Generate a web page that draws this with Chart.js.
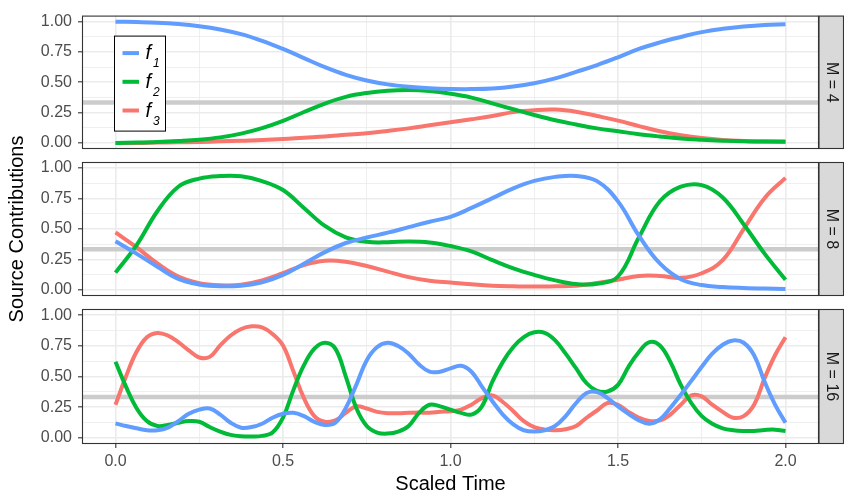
<!DOCTYPE html>
<html>
<head>
<meta charset="utf-8">
<script src="https://cdn.jsdelivr.net/npm/chart.js@4.4.0/dist/chart.umd.min.js"></script>
<style>
  html, body { margin: 0; padding: 0; background: #ffffff; }
  #wrap { position: relative; width: 844px; height: 495px; overflow: hidden; }
  #wrap canvas { position: absolute; left: 0; top: 0; }
</style>
</head>
<body>
<div id="wrap">
  <canvas id="panelM4" width="844" height="495"></canvas>
  <canvas id="panelM8" width="844" height="495"></canvas>
  <canvas id="panelM16" width="844" height="495"></canvas>
</div>
<script>
// series / facets
const seriesNames = ['f_1', 'f_2', 'f_3'];
const seriesColors = ['#619CFF', '#00BA38', '#F8766D'];
const panelLabels = ['M = 4', 'M = 8', 'M = 16'];
const refLevel = 1 / 3;

// ticks
const xTicks = [0, 0.25, 0.5, 0.75, 1, 1.25, 1.5, 1.75, 2];
const yTicks = [0, 0.125, 0.25, 0.375, 0.5, 0.625, 0.75, 0.875, 1];

// time grids
const timeCoarse = [0, 0.0625, 0.125, 0.1875, 0.25, 0.3125, 0.375, 0.4375, 0.5, 0.5625, 0.625, 0.6875,
  0.75, 0.8125, 0.875, 0.9375, 1, 1.0625, 1.125, 1.1875, 1.25, 1.3125, 1.375, 1.4375, 1.5, 1.5625,
  1.625, 1.6875, 1.75, 1.8125, 1.875, 1.9375, 2];
const timeFine = [0, 0.03125, 0.0625, 0.09375, 0.125, 0.15625, 0.1875, 0.21875, 0.25, 0.28125, 0.3125,
  0.34375, 0.375, 0.40625, 0.4375, 0.46875, 0.5, 0.53125, 0.5625, 0.59375, 0.625, 0.65625, 0.6875,
  0.71875, 0.75, 0.78125, 0.8125, 0.84375, 0.875, 0.90625, 0.9375, 0.96875, 1, 1.03125, 1.0625,
  1.09375, 1.125, 1.15625, 1.1875, 1.21875, 1.25, 1.28125, 1.3125, 1.34375, 1.375, 1.40625, 1.4375,
  1.46875, 1.5, 1.53125, 1.5625, 1.59375, 1.625, 1.65625, 1.6875, 1.71875, 1.75, 1.78125, 1.8125,
  1.84375, 1.875, 1.90625, 1.9375, 1.96875, 2];

// M = 4
const m4f1 = [1.0, 0.997, 0.992, 0.981, 0.963, 0.936, 0.897, 0.842, 0.775, 0.70, 0.625, 0.562, 0.515, 0.483, 0.463, 0.451, 0.445,
  0.444, 0.449, 0.465, 0.492, 0.532, 0.586, 0.642, 0.706, 0.775, 0.829, 0.874, 0.914, 0.941, 0.96, 0.973, 0.979];
const m4f2 = [0, 0.003, 0.008, 0.016, 0.027, 0.046, 0.077, 0.122, 0.182, 0.255, 0.325, 0.38, 0.412, 0.43, 0.436, 0.428, 0.406,
  0.374, 0.326, 0.278, 0.23, 0.187, 0.152, 0.12, 0.096, 0.072, 0.053, 0.037, 0.027, 0.019, 0.013, 0.011, 0.011];
const m4f3 = [0, 0, 0.003, 0.005, 0.008, 0.013, 0.019, 0.024, 0.032, 0.043, 0.053, 0.067, 0.08, 0.099, 0.12, 0.145, 0.17,
  0.195, 0.222, 0.254, 0.27, 0.275, 0.257, 0.222, 0.184, 0.139, 0.096, 0.064, 0.04, 0.024, 0.016, 0.011, 0.008];

// M = 8
const m8f1 = [0.40, 0.298, 0.19, 0.09, 0.045, 0.03, 0.035, 0.062, 0.123, 0.215, 0.31, 0.385, 0.43, 0.47, 0.515, 0.56, 0.60,
  0.673, 0.753, 0.834, 0.895, 0.928, 0.936, 0.893, 0.727, 0.445, 0.217, 0.088, 0.04, 0.024, 0.016, 0.011, 0.008];
const m8f2 = [0.142, 0.365, 0.646, 0.847, 0.914, 0.935, 0.933, 0.893, 0.82, 0.673, 0.525, 0.432, 0.395, 0.391, 0.398, 0.39, 0.36,
  0.316, 0.244, 0.177, 0.123, 0.078, 0.048, 0.051, 0.11, 0.432, 0.727, 0.847, 0.86, 0.759, 0.539, 0.298, 0.083];
const m8f3 = [0.472, 0.351, 0.217, 0.11, 0.056, 0.038, 0.043, 0.078, 0.137, 0.204, 0.239, 0.231, 0.196, 0.15, 0.105, 0.075, 0.06,
  0.046, 0.035, 0.03, 0.027, 0.03, 0.035, 0.056, 0.083, 0.115, 0.115, 0.099, 0.137, 0.244, 0.499, 0.753, 0.92];

// M = 16
const m16f1 = [0.118, 0.097, 0.078, 0.062, 0.062, 0.083, 0.137, 0.196, 0.23, 0.239, 0.19, 0.123, 0.083, 0.088, 0.115,
  0.164, 0.196, 0.204, 0.177, 0.131, 0.105, 0.123, 0.244, 0.432, 0.633, 0.74, 0.775, 0.748, 0.686, 0.598, 0.539, 0.539, 0.566,
  0.587, 0.539, 0.418, 0.298, 0.19, 0.11, 0.062, 0.051, 0.062, 0.097, 0.177, 0.284, 0.365, 0.373, 0.324,
  0.257, 0.196, 0.142, 0.115, 0.15, 0.244, 0.351, 0.464, 0.579, 0.686, 0.759, 0.794, 0.775, 0.673, 0.458, 0.271, 0.123];
const m16f2 = [0.62, 0.418, 0.244, 0.137, 0.097, 0.105, 0.123, 0.137, 0.131, 0.088, 0.051, 0.024, 0.013, 0.011, 0.016,
  0.043, 0.164, 0.391, 0.592, 0.727, 0.775, 0.727, 0.499, 0.244, 0.097, 0.043, 0.035, 0.051, 0.097, 0.204, 0.27, 0.257, 0.23,
  0.204, 0.19, 0.257, 0.458, 0.619, 0.74, 0.82, 0.86, 0.855, 0.794, 0.686, 0.566, 0.445, 0.383, 0.378,
  0.432, 0.579, 0.70, 0.78, 0.753, 0.619, 0.432, 0.284, 0.177, 0.115, 0.078, 0.062, 0.056, 0.056, 0.064, 0.067, 0.056];
const m16f3 = [0.27, 0.5, 0.70, 0.82, 0.855, 0.834, 0.78, 0.713, 0.655, 0.66, 0.753, 0.834, 0.887, 0.909, 0.90,
  0.847, 0.753, 0.54, 0.324, 0.177, 0.131, 0.142, 0.204, 0.257, 0.239, 0.212, 0.201, 0.201, 0.204, 0.206, 0.204, 0.212, 0.217,
  0.23, 0.27, 0.324, 0.346, 0.292, 0.217, 0.137, 0.088, 0.067, 0.062, 0.07, 0.097, 0.164, 0.223, 0.284,
  0.27, 0.212, 0.164, 0.137, 0.142, 0.19, 0.27, 0.346, 0.338, 0.27, 0.212, 0.164, 0.177, 0.27, 0.485, 0.673, 0.82];

Chart.defaults.font.family = '"Liberation Sans", Arial, sans-serif';
Chart.defaults.color = '#4D4D4D';

const xMin = -0.1, xMax = 2.1;
const yMin = -0.05, yMax = 1.05;

//panel border, strip on the right, legend inside the top panel
const facetDecor = {
  id: 'facetDecor',
  afterDraw(chart, args, opt) {
    const ctx = chart.ctx;
    const a = chart.chartArea;
    ctx.save();
    // strip
    ctx.fillStyle = '#D9D9D9';
    ctx.fillRect(a.right, a.top, chart.width - a.right, a.bottom - a.top);
    ctx.strokeStyle = '#333333';
    ctx.lineWidth = 1.1;
    ctx.strokeRect(a.right, a.top + 0.5, chart.width - a.right - 0.5, a.bottom - a.top - 1);
    ctx.strokeRect(a.left + 0.5, a.top + 0.5, a.right - a.left - 1, a.bottom - a.top - 1);
    ctx.fillStyle = '#1A1A1A';
    ctx.font = '16px "Liberation Sans", Arial, sans-serif';
    ctx.textAlign = 'center';
    ctx.textBaseline = 'middle';
    ctx.translate((a.right + chart.width) / 2, (a.top + a.bottom) / 2);
    ctx.rotate(Math.PI / 2);
    ctx.fillText(opt.label, 0, 0);
    ctx.restore();

    if (opt.legend) {
      const bx = a.left + 32.5, by = a.top + 20.5;
      ctx.save();
      ctx.fillStyle = '#ffffff';
      ctx.fillRect(bx, by, 51, 95);
      ctx.strokeStyle = '#000000';
      ctx.lineWidth = 1;
      ctx.strokeRect(bx, by, 51, 95);
      const items = chart.data.datasets.filter(d => d.label !== 'ref');
      items.forEach((d, i) => {
        const y = by + 17 + i * 28.7;
        ctx.strokeStyle = d.borderColor;
        ctx.lineWidth = 4;
        ctx.beginPath();
        ctx.moveTo(bx + 8, y);
        ctx.lineTo(bx + 24.5, y);
        ctx.stroke();
        const parts = d.label.split('_');
        ctx.fillStyle = '#000000';
        ctx.textAlign = 'left';
        ctx.textBaseline = 'alphabetic';
        ctx.font = 'italic 20px "Liberation Sans", Arial, sans-serif';
        ctx.fillText(parts[0], bx + 31, y + 6);
        ctx.font = 'italic 12px "Liberation Sans", Arial, sans-serif';
        ctx.fillText(parts[1], bx + 38.5, y + 14);
      });
      ctx.restore();
    }
  }
};

function isMultiple(v, step) {
  return Math.abs(v / step - Math.round(v / step)) < 1e-6;
}

function makePanel(canvasId, time, values, label, cfg) {
  const datasets = values.map((vals, i) => ({
    label: seriesNames[i],
    data: vals.map((v, k) => ({ x: time[k], y: v })),
    borderColor: seriesColors[i],
    borderWidth: 4,
    pointRadius: 0,
    fill: false,
    tension: 0.4,
    order: 0
  }));
  datasets.push({
    label: 'ref',
    data: [{ x: xMin, y: refLevel }, { x: xMax, y: refLevel }],
    borderColor: '#CCCCCC',
    borderWidth: 4.5,
    pointRadius: 0,
    fill: false,
    order: 1
  });

  return new Chart(document.getElementById(canvasId), {
    type: 'line',
    data: { datasets: datasets },
    plugins: [facetDecor],
    options: {
      responsive: false,
      animation: false,
      devicePixelRatio: 1,
      events: [],
      layout: { padding: { left: 0, right: 25, top: cfg.top, bottom: cfg.bottom } },
      plugins: {
        legend: { display: false },
        tooltip: { enabled: false },
        facetDecor: { label: label, legend: cfg.legend }
      },
      scales: {
        x: {
          type: 'linear',
          min: xMin,
          max: xMax,
          afterBuildTicks: s => { s.ticks = xTicks.map(v => ({ value: v })); },
          afterFit: s => { s.height = cfg.showX ? 51 : 0; },
          border: { display: false },
          grid: {
            color: '#EBEBEB',
            lineWidth: c => isMultiple(c.tick.value, 0.5) ? 1.6 : 0.8,
            drawTicks: cfg.showX,
            tickLength: 4,
            tickWidth: 1.1,
            tickColor: c => isMultiple(c.tick.value, 0.5) ? '#333333' : 'rgba(0,0,0,0)'
          },
          ticks: {
            display: cfg.showX,
            autoSkip: false,
            maxRotation: 0,
            padding: 4,
            color: '#4D4D4D',
            font: { size: 16 },
            callback: v => isMultiple(v, 0.5) ? v.toFixed(1) : ''
          },
          title: {
            display: cfg.showX,
            text: 'Scaled Time',
            color: '#000000',
            font: { size: 20, lineHeight: 1 },
            padding: { top: 0, bottom: 1 }
          }
        },
        y: {
          type: 'linear',
          min: yMin,
          max: yMax,
          afterBuildTicks: s => { s.ticks = yTicks.map(v => ({ value: v })); },
          afterFit: s => { s.width = 82; },
          border: { display: false },
          grid: {
            color: '#EBEBEB',
            lineWidth: c => isMultiple(c.tick.value, 0.25) ? 1.6 : 0.8,
            drawTicks: true,
            tickLength: 4,
            tickWidth: 1.1,
            tickColor: c => isMultiple(c.tick.value, 0.25) ? '#333333' : 'rgba(0,0,0,0)'
          },
          ticks: {
            autoSkip: false,
            padding: 6,
            color: '#4D4D4D',
            font: { size: 16 },
            callback: v => isMultiple(v, 0.25) ? v.toFixed(2) : ''
          },
          title: {
            display: cfg.yTitle,
            text: 'Source Contributions',
            color: '#000000',
            font: { size: 20, lineHeight: 1.2 },
            padding: { top: 5, bottom: 0 }
          }
        }
      }
    }
  });
}

// every canvas covers the whole figure; padding places each facet
makePanel('panelM4', timeCoarse, [m4f1, m4f2, m4f3], panelLabels[0],
  { top: 14, bottom: 346, showX: false, yTitle: false, legend: true });
makePanel('panelM8', timeCoarse, [m8f1, m8f2, m8f3], panelLabels[1],
  { top: 162, bottom: 199, showX: false, yTitle: true, legend: false });
makePanel('panelM16', timeFine, [m16f1, m16f2, m16f3], panelLabels[2],
  { top: 309, bottom: 0, showX: true, yTitle: false, legend: false });
</script>
</body>
</html>
